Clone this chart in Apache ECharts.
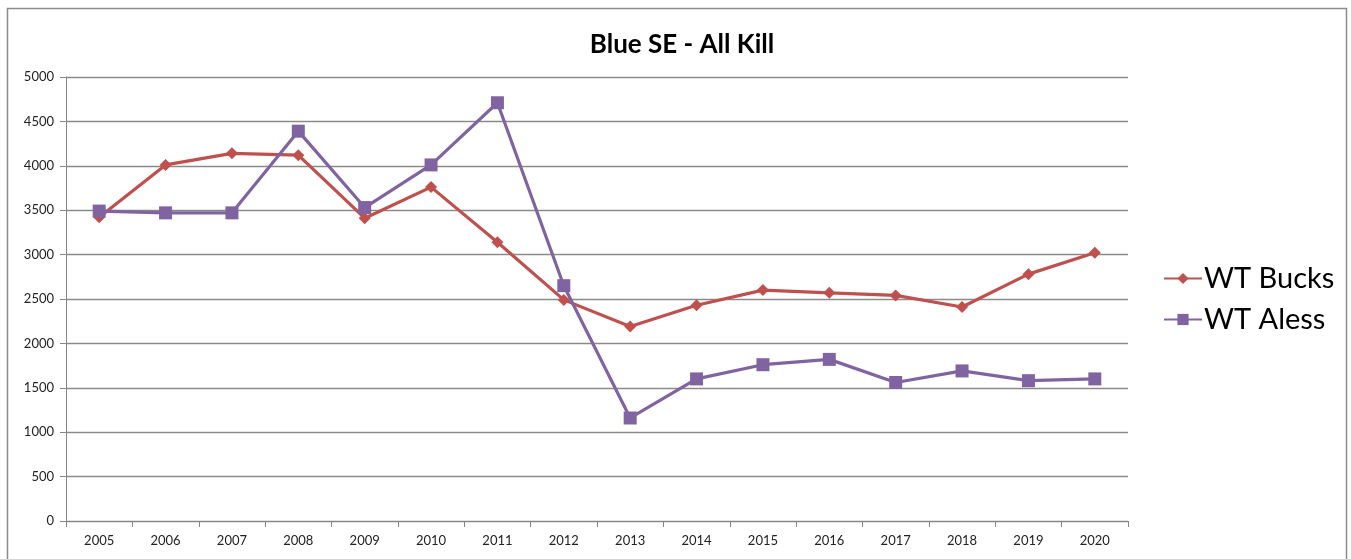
<!DOCTYPE html>
<html>
<head>
<meta charset="utf-8">
<script src="https://cdn.jsdelivr.net/npm/echarts@6/dist/echarts.min.js"></script>
<style>
  html, body { margin: 0; padding: 0; background: #fff; }
  #main { width: 1351px; height: 559px; }
</style>
</head>
<body>
<div id="main"></div>
<script>
  // data
  var years = ['2005','2006','2007','2008','2009','2010','2011','2012','2013','2014','2015','2016','2017','2018','2019','2020'];
  var bucks = [3420, 4010, 4140, 4120, 3410, 3760, 3140, 2490, 2190, 2430, 2600, 2570, 2540, 2410, 2780, 3020];
  var aless = [3490, 3470, 3470, 4390, 3530, 4010, 4710, 2650, 1160, 1600, 1760, 1820, 1560, 1690, 1580, 1600];
  var yTicks = { min: 0, max: 5000, interval: 500 };

  var myChart = echarts.init(document.getElementById('main'));
  var font = 'Lato, "Open Sans", sans-serif';

  var option = {
    animation: false,
    backgroundColor: '#fff',
    title: {
      text: 'Blue SE - All Kill',
      left: 677,
      textAlign: 'center',
      top: 27,
      textStyle: { fontFamily: font, fontWeight: 'bold', fontSize: 26, color: '#000' }
    },
    // outer chart border
    graphic: [{
      type: 'rect',
      shape: { x: 7.5, y: 8.5, width: 1339, height: 620 },
      style: { fill: 'none', stroke: '#8c8c8c', lineWidth: 1.5 },
      silent: true
    }],
    legend: {
      orient: 'vertical',
      left: 1158,
      top: 259,
      itemWidth: 38,
      itemHeight: 14,
      itemGap: 12,
      textStyle: { fontFamily: font, fontSize: 29, color: '#000', padding: [0, 0, 0, -3] },
      data: ['WT Bucks', 'WT Aless']
    },
    grid: { left: 66, right: 223, top: 77, bottom: 38, containLabel: false },
    xAxis: {
      type: 'category',
      data: years,
      boundaryGap: true,
      axisLine: { lineStyle: { color: '#868686', width: 1 } },
      axisTick: { show: true, length: 6, lineStyle: { color: '#868686' } },
      axisLabel: { fontFamily: font, fontSize: 13, color: '#222', margin: 13 }
    },
    yAxis: {
      type: 'value',
      min: yTicks.min,
      max: yTicks.max,
      interval: yTicks.interval,
      axisLine: { show: true, lineStyle: { color: '#868686', width: 1 } },
      axisTick: { show: true, length: 6, lineStyle: { color: '#868686' } },
      axisLabel: { fontFamily: font, fontSize: 13, color: '#222', margin: 12,
        formatter: function (v) { return String(v); } },
      splitLine: { lineStyle: { color: '#8a8a8a', width: 1.3 } }
    },
    series: [
      {
        name: 'WT Bucks',
        type: 'line',
        data: bucks,
        symbol: 'diamond',
        symbolSize: 12,
        lineStyle: { color: '#c0504d', width: 3.2 },
        itemStyle: { color: '#c0504d' },
        z: 2
      },
      {
        name: 'WT Aless',
        type: 'line',
        data: aless,
        symbol: 'rect',
        symbolSize: 13,
        lineStyle: { color: '#8064a2', width: 3.2 },
        itemStyle: { color: '#8064a2' },
        z: 3
      }
    ]
  };

  myChart.setOption(option);
</script>
</body>
</html>
